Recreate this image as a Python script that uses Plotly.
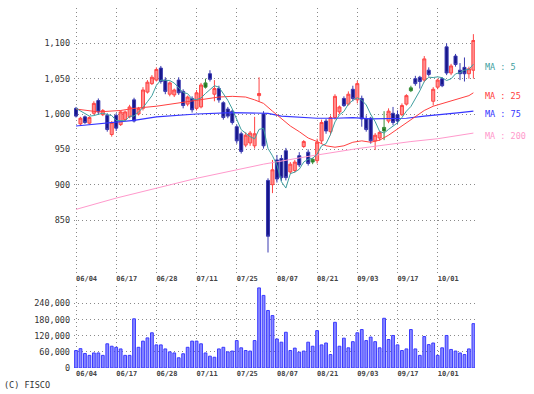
import plotly.graph_objects as go
import pandas as pd

# ---------------- data ----------------
dates = [
    "06/04", "06/05", "06/06", "06/07", "06/10", "06/11", "06/12", "06/13", "06/14", "06/17",
    "06/18", "06/19", "06/20", "06/21", "06/24", "06/25", "06/26", "06/27", "06/28",
    "07/01", "07/02", "07/03", "07/04", "07/05", "07/08", "07/09", "07/10", "07/11", "07/12",
    "07/16", "07/17", "07/18", "07/19", "07/22", "07/23", "07/24", "07/25", "07/26", "07/29",
    "07/30", "07/31",
    "08/01", "08/02", "08/05", "08/06", "08/07", "08/08", "08/09", "08/13", "08/14", "08/15",
    "08/16", "08/19", "08/20", "08/21", "08/22", "08/23", "08/26", "08/27", "08/28", "08/29",
    "08/30",
    "09/02", "09/03", "09/04", "09/05", "09/06", "09/09", "09/10", "09/11", "09/12", "09/13",
    "09/17", "09/18", "09/19", "09/20", "09/24", "09/25", "09/26", "09/27", "09/30",
    "10/01", "10/02", "10/03", "10/04", "10/07", "10/08", "10/09", "10/10", "10/11",
]

opens = [1008, 986, 996, 987, 1001, 1019, 999, 998, 971, 998,
         985, 992, 996, 1020, 1000, 1008, 1031, 1043, 1048, 1065,
         1048, 1028, 1027, 1048, 1032, 1014, 1022, 1008, 1010, 1038,
         1057, 1028, 1036, 1016, 1007, 1004, 982, 972, 956, 959,
         955, 1026, 1000, 906, 900, 935, 937, 948, 918, 920,
         941, 954, 946, 932, 934, 962, 990, 975, 995, 1003,
         1022, 1014, 1035, 1020, 1022, 993, 994, 962, 966, 976,
         990, 1001, 999, 999, 1014, 1033, 1050, 1052, 1048, 1062,
         1018, 1038, 1050, 1095, 1058, 1082, 1062, 1066, 1057, 1062]
highs = [1010, 996, 998, 997, 1018, 1022, 1007, 1001, 990, 1001,
         1005, 1005, 1013, 1023, 1010, 1038, 1048, 1055, 1066, 1068,
         1052, 1046, 1036, 1052, 1035, 1026, 1025, 1034, 1044, 1050,
         1062, 1048, 1040, 1018, 1010, 1006, 985, 975, 974, 976,
         996, 1052, 1004, 909, 935, 942, 942, 952, 932, 935,
         946, 963, 950, 938, 965, 992, 993, 998, 1028, 1012,
         1025, 1032, 1040, 1047, 1026, 998, 996, 973, 976, 1004,
         1008, 1010, 1005, 1015, 1028, 1040, 1054, 1054, 1082, 1066,
         1038, 1050, 1052, 1100, 1071, 1085, 1072, 1080, 1067, 1113]
lows = [995, 983, 986, 985, 999, 1000, 997, 975, 968, 976,
        983, 990, 994, 988, 998, 1005, 1029, 1041, 1046, 1043,
        1028, 1025, 1024, 1027, 1008, 1011, 1002, 1005, 1008, 1036,
        1046, 1018, 1016, 992, 994, 985, 958, 944, 953, 955,
        951, 1017, 951, 804, 888, 903, 905, 906, 915, 917,
        925, 952, 927, 929, 930, 958, 972, 970, 992, 1000,
        1010, 1012, 1018, 1015, 982, 975, 958, 949, 962, 963,
        987, 984, 986, 997, 1012, 1031, 1040, 1036, 1045, 1053,
        1012, 1035, 1038, 1055, 1055, 1067, 1048, 1046, 1050, 1050]
closes = [997, 994, 988, 995, 1015, 1003, 1005, 978, 988, 980,
          1003, 1003, 1010, 990, 1008, 1034, 1045, 1052, 1063, 1046,
          1032, 1044, 1034, 1030, 1012, 1024, 1006, 1030, 1041, 1044,
          1049, 1036, 1020, 995, 997, 988, 962, 947, 970, 973,
          972, 1029, 955, 827, 921, 908, 910, 910, 929, 932,
          928, 961, 930, 936, 960, 988, 976, 995, 1025, 1010,
          1012, 1028, 1022, 1043, 993, 978, 962, 970, 974, 981,
          1004, 988, 990, 1012, 1026, 1037, 1043, 1046, 1078, 1056,
          1035, 1048, 1040, 1058, 1068, 1070, 1057, 1057, 1064, 1104]
# candles drawn in green in the reference (1 = green)
green_flag = [0] * 29 + [1] + [0] * 23 + [1] + [0] * 15 + [1] + [0] * 5 + [1] + [0] * 14

volume = [65, 72, 54, 47, 56, 56, 47, 90, 81, 77,
          71, 47, 47, 183, 77, 100, 112, 131, 86, 86,
          71, 60, 56, 38, 53, 77, 100, 100, 90, 56,
          44, 40, 71, 77, 60, 63, 102, 75, 65, 63,
          102, 298, 270, 214, 195, 108, 96, 133, 65, 74,
          59, 63, 96, 81, 139, 86, 93, 50, 170, 81,
          111, 75, 98, 131, 143, 102, 115, 98, 75, 185,
          106, 121, 86, 65, 71, 143, 71, 47, 117, 87,
          93, 47, 75, 121, 69, 63, 56, 50, 71, 165]
volume = [v * 1000 for v in volume]

# moving averages (index into dates, value)
ma5_first = [1008, 1004, 1000, 997]  # first MA5 points (need earlier closes)
ma25_idx = [0, 5, 10, 13, 18, 23, 27, 32, 35, 38, 40, 42, 44, 46, 48, 50, 52, 54, 56, 58,
            60, 62, 64, 66, 68, 70, 72, 74, 76, 78, 80, 82, 84, 86, 88, 89]
ma25_val = [1007, 1003, 1005, 1008, 1011, 1016, 1020, 1024, 1025, 1024, 1020, 1015, 1004, 993,
            983, 975, 966, 961, 955, 953, 955, 960, 962, 960, 963, 970, 979, 988, 997, 1005,
            1011, 1015, 1018, 1022, 1026, 1030]
ma75_idx = [0, 9, 13, 18, 22, 27, 35, 40, 43, 46, 50, 54, 58, 62, 66, 70, 74, 78, 82, 86, 89]
ma75_val = [983, 989, 991, 996, 998, 1000, 1002, 1002, 1001, 997, 995, 994, 994, 995, 993, 993,
            994, 997, 1000, 1002, 1004]
ma200_idx = [0, 9, 18, 27, 36, 42, 52, 63, 75, 81, 89]
ma200_val = [865, 881, 895, 909, 921, 929, 940, 951, 961, 965, 973]

tick_labels = ["06/04", "06/17", "06/28", "07/11", "07/25", "08/07", "08/21", "09/03", "09/17", "10/01"]
price_ticks = [850, 900, 950, 1000, 1050, 1100]
volume_ticks = [0, 60000, 120000, 180000, 240000]

# ---------------- figure ----------------
ma5 = pd.Series(closes).rolling(5).mean().tolist()
ma5[:len(ma5_first)] = ma5_first
green = [i for i in range(len(dates)) if green_flag[i]]
normal = [i for i in range(len(dates)) if not green_flag[i]]

def pick(arr, idx):
    return [arr[i] for i in idx]

MONO = "DejaVu Sans Mono"
C_MA5, C_MA25, C_MA75, C_MA200 = "#3f9f9f", "#ff4040", "#3535ff", "#ff99cc"

fig = go.Figure()

fig.add_trace(go.Scatter(x=pick(dates, ma200_idx), y=ma200_val, mode="lines",
                         line=dict(color=C_MA200, width=1), hoverinfo="skip"))
fig.add_trace(go.Scatter(x=pick(dates, ma75_idx), y=ma75_val, mode="lines",
                         line=dict(color=C_MA75, width=1.2), hoverinfo="skip"))
fig.add_trace(go.Scatter(x=pick(dates, ma25_idx), y=ma25_val, mode="lines",
                         line=dict(color=C_MA25, width=1), hoverinfo="skip"))

fig.add_trace(go.Candlestick(
    x=pick(dates, normal), open=pick(opens, normal), high=pick(highs, normal),
    low=pick(lows, normal), close=pick(closes, normal),
    increasing=dict(fillcolor="#ff8c8c", line=dict(color="#ff4545", width=1)),
    decreasing=dict(fillcolor="#16168a", line=dict(color="#3a3ab0", width=1)),
    whiskerwidth=0, hoverinfo="skip"))
fig.add_trace(go.Candlestick(
    x=pick(dates, green), open=pick(opens, green), high=pick(highs, green),
    low=pick(lows, green), close=pick(closes, green),
    increasing=dict(fillcolor="#1d6e1d", line=dict(color="#3a8f3a", width=1)),
    decreasing=dict(fillcolor="#1d6e1d", line=dict(color="#3a8f3a", width=1)),
    whiskerwidth=0, hoverinfo="skip"))

fig.add_trace(go.Scatter(x=dates, y=ma5, mode="lines",
                         line=dict(color=C_MA5, width=1), hoverinfo="skip"))

fig.add_trace(go.Bar(x=dates, y=volume, xaxis="x2", yaxis="y2", width=0.62,
                     marker=dict(color="#8a8aff", line=dict(color="#3a3aff", width=1)),
                     hoverinfo="skip"))

grid = dict(showgrid=True, gridcolor="#8a8a8a", griddash="1px,3px", gridwidth=1,
            zeroline=False, showline=False, ticks="")
date_font = dict(family=MONO, size=7, color="#444444", weight="bold")
xcommon = dict(type="category", categoryorder="array", categoryarray=dates,
               range=[-0.45, 89.36], tickmode="array", tickvals=tick_labels,
               ticktext=tick_labels, ticklabelposition="outside right",
               tickfont=date_font, fixedrange=True, **grid)

fig.update_layout(
    width=534, height=394,
    margin=dict(l=74, r=59, t=8, b=26),
    paper_bgcolor="white", plot_bgcolor="white",
    showlegend=False, boxgap=0.2, boxgroupgap=0.15,
    xaxis=dict(domain=[0, 1], anchor="y", rangeslider=dict(visible=False), **xcommon),
    xaxis2=dict(domain=[0, 1], anchor="y2", **xcommon),
    yaxis=dict(domain=[0.2639, 1], range=[775, 1150], tickmode="array",
               tickvals=price_ticks, tickformat=",d", ticklabelstandoff=3,
               tickfont=dict(family=MONO, size=8.5, color="#333333"), fixedrange=True, **grid),
    yaxis2=dict(domain=[0, 0.229], range=[0, 306700], tickmode="array",
                tickvals=volume_ticks, tickformat=",d", ticklabelstandoff=3,
                tickfont=dict(family=MONO, size=8.5, color="#333333"), fixedrange=True, **grid),
)

for name, val, col in [("MA : 5", ma5[-1], C_MA5), ("MA : 25", ma25_val[-1], C_MA25),
                       ("MA : 75", ma75_val[-1], C_MA75), ("MA : 200", ma200_val[-1], C_MA200)]:
    fig.add_annotation(x=dates[-1], y=val, xref="x", yref="y", text=name, showarrow=False,
                       xanchor="left", yanchor="middle", xshift=10, yshift=-3,
                       font=dict(family=MONO, size=8.5, color=col))

fig.add_annotation(x=0, y=0, xref="paper", yref="paper", text="(C) FISCO", showarrow=False,
                   xanchor="left", yanchor="middle", xshift=-72, yshift=-17,
                   font=dict(family=MONO, size=8.5, color="#333333"))

fig.write_html("out.html", config=dict(displayModeBar=False),
               post_script="document.body.style.margin='0px';")
